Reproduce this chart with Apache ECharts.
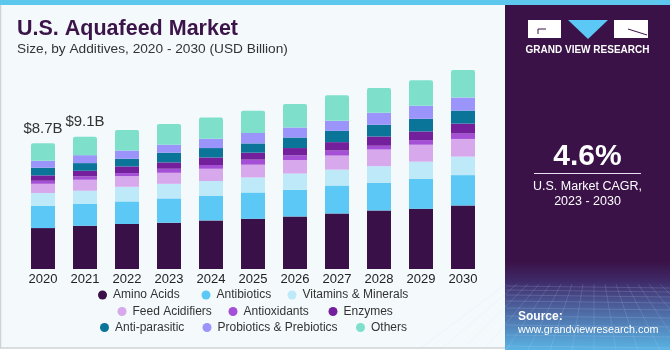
<!DOCTYPE html>
<html>
<head>
<meta charset="UTF-8">
<title>U.S. Aquafeed Market</title>
<script type="text/javascript" src="https://cdn.jsdelivr.net/npm/echarts@6/dist/echarts.min.js"></script>
<style>
  html, body { margin: 0; padding: 0; background: #ffffff; }
  #main { width: 670px; height: 350px; }
</style>
</head>
<body>
<div id="main"></div>
<script type="text/javascript">
    // data (USD billion)
    var years = ['2020', '2021', '2022', '2023', '2024', '2025', '2026', '2027', '2028', '2029', '2030'];
    var aminoAcids    = [2.83, 2.99, 3.11, 3.20, 3.36, 3.47, 3.63, 3.84, 4.05, 4.16, 4.39];
    var antibiotics   = [1.54, 1.52, 1.56, 1.68, 1.71, 1.82, 1.84, 1.93, 1.91, 2.07, 2.10];
    var vitamins      = [0.88, 0.90, 1.01, 1.01, 1.01, 1.04, 1.13, 1.10, 1.15, 1.19, 1.28];
    var feedAcidifier = [0.64, 0.76, 0.74, 0.76, 0.85, 0.88, 0.93, 0.97, 1.15, 1.17, 1.22];
    var antioxidants  = [0.21, 0.23, 0.21, 0.28, 0.26, 0.35, 0.32, 0.35, 0.26, 0.32, 0.37];
    var enzymes       = [0.37, 0.39, 0.46, 0.44, 0.52, 0.48, 0.51, 0.58, 0.64, 0.60, 0.69];
    var antiParasitic = [0.53, 0.53, 0.53, 0.67, 0.65, 0.64, 0.73, 0.78, 0.81, 0.87, 0.90];
    var probiotics    = [0.48, 0.55, 0.57, 0.55, 0.64, 0.72, 0.69, 0.69, 0.83, 0.90, 0.90];
    var others        = [1.22, 1.28, 1.41, 1.43, 1.47, 1.54, 1.62, 1.77, 1.71, 1.77, 1.91];
    var totalLabels   = ['$8.7B', '$9.1B'];   // shown over the first two bars

    var seriesNames = ['Amino Acids', 'Antibiotics', 'Vitamins & Minerals', 'Feed Acidifiers',
        'Antioxidants', 'Enzymes', 'Anti-parasitic', 'Probiotics & Prebiotics', 'Others'];
    var seriesData = [aminoAcids, antibiotics, vitamins, feedAcidifier, antioxidants,
        enzymes, antiParasitic, probiotics, others];
    var colors = ['#3a1048', '#5bc8f5', '#bde9f9', '#d7a8ec', '#a44fd6',
        '#74209c', '#0a7499', '#9b94fb', '#7ee0cb'];

    // legend dot positions (left edge x, centre y)
    var legendPos = [[98, 296.5], [201.5, 296.5], [287.5, 296.5],
        [117.5, 313], [228.5, 313], [328.5, 313],
        [100, 329], [202.5, 329], [356, 329]];

    var font = 'Arial, "Liberation Sans", sans-serif';
    var myChart = echarts.init(document.getElementById('main'), null, { renderer: 'canvas' });

    var series = seriesData.map(function (arr, i) {
        var last = i === seriesData.length - 1;
        return {
            name: seriesNames[i],
            type: 'bar',
            stack: 'total',
            barWidth: 24,
            itemStyle: { color: colors[i], borderRadius: last ? [2, 2, 0, 0] : 0 },
            data: arr.map(function (v, j) {
                if (last && j < totalLabels.length) {
                    return {
                        value: v,
                        label: {
                            show: true, position: 'top', distance: 7,
                            formatter: totalLabels[j],
                            fontSize: 15, color: '#333', fontFamily: font
                        }
                    };
                }
                return v;
            })
        };
    });

    var legends = seriesNames.map(function (name, i) {
        return {
            left: legendPos[i][0],
            top: legendPos[i][1] - 7.5,
            padding: 0,
            icon: 'circle',
            itemWidth: 9,
            itemHeight: 9,
            selectedMode: false,
            data: [name],
            textStyle: { fontSize: 12, color: '#333', fontFamily: font, padding: [0, 0, 0, 1] }
        };
    });

    // perspective grid decoration at the bottom of the side panel
    var gridLines = [];
    var hy = [286, 290, 295, 301, 308, 316, 325, 335, 346];
    hy.forEach(function (y) {
        gridLines.push({ type: 'line', silent: true,
            shape: { x1: 506, y1: y, x2: 670, y2: y + 2 },
            style: { stroke: 'rgba(200,220,255,0.22)', lineWidth: 0.8 } });
    });
    for (var k = 0; k < 16; k++) {
        var xTop = 506 + k * 11;
        var xBot = 506 + (k - 8) * 22 + 88;
        gridLines.push({ type: 'line', silent: true,
            shape: { x1: xTop, y1: 284, x2: xBot, y2: 350 },
            style: { stroke: 'rgba(200,220,255,0.2)', lineWidth: 0.8 } });
    }

    var graphics = [
        // chart area background and frame
        { type: 'rect', silent: true, z: -10,
          shape: { x: 0.5, y: 0, width: 506, height: 348 },
          style: { fill: '#f4f9fc', stroke: '#cfd3d6', lineWidth: 1.5 } },
        // side panel
        { type: 'rect', silent: true, z: -9,
          shape: { x: 505, y: 0, width: 165, height: 350 },
          style: { fill: '#3a1248' } },
        { type: 'rect', silent: true, z: -8,
          shape: { x: 505, y: 262, width: 165, height: 88 },
          style: { fill: new echarts.graphic.LinearGradient(0, 0, 0, 1, [
              { offset: 0, color: '#3a1248' },
              { offset: 0.22, color: '#3f2a68' },
              { offset: 0.45, color: '#4a5592' },
              { offset: 1, color: '#5ab4e4' }]) } },
        // top stripe
        { type: 'rect', silent: true, z: 10,
          shape: { x: 0, y: 0, width: 670, height: 5 },
          style: { fill: '#5ec7ee' } },
        // title
        { type: 'text', silent: true,
          style: { x: 17, y: 29, text: 'U.S. Aquafeed Market', fill: '#3b1549',
                   font: 'bold 21.5px ' + font, textVerticalAlign: 'middle' } },
        { type: 'text', silent: true,
          style: { x: 17, y: 49.5, text: 'Size, by Additives, 2020 - 2030 (USD Billion)', fill: '#333',
                   font: '13.7px ' + font, textVerticalAlign: 'middle' } },
        // logo
        { type: 'rect', silent: true, shape: { x: 528, y: 20, width: 33, height: 18 }, style: { fill: '#fff' } },
        { type: 'polyline', silent: true, shape: { points: [[546, 29], [538, 29], [538, 34]] },
          style: { stroke: '#3a1248', lineWidth: 1 } },
        { type: 'polygon', silent: true, shape: { points: [[568, 20], [608, 20], [588, 39]] },
          style: { fill: '#5bc8f5' } },
        { type: 'rect', silent: true, shape: { x: 614, y: 20, width: 34, height: 18 }, style: { fill: '#fff' } },
        { type: 'line', silent: true, shape: { x1: 628, y1: 29, x2: 647, y2: 35 },
          style: { stroke: '#3a1248', lineWidth: 1 } },
        { type: 'text', silent: true,
          style: { x: 587.5, y: 50.5, text: 'GRAND VIEW RESEARCH', fill: '#fff',
                   font: 'bold 10px ' + font, textAlign: 'center', textVerticalAlign: 'middle' } },
        // CAGR block
        { type: 'text', silent: true,
          style: { x: 587.5, y: 157, text: '4.6%', fill: '#fff',
                   font: 'bold 30px ' + font, textAlign: 'center', textVerticalAlign: 'middle' } },
        { type: 'line', silent: true, shape: { x1: 534, y1: 173.5, x2: 641, y2: 173.5 },
          style: { stroke: '#e8e0f0', lineWidth: 1 } },
        { type: 'text', silent: true,
          style: { x: 587.5, y: 186.5, text: 'U.S. Market CAGR,', fill: '#fff',
                   font: '12.5px ' + font, textAlign: 'center', textVerticalAlign: 'middle' } },
        { type: 'text', silent: true,
          style: { x: 587.5, y: 202, text: '2023 - 2030', fill: '#fff',
                   font: '12.5px ' + font, textAlign: 'center', textVerticalAlign: 'middle' } },
        // source
        { type: 'text', silent: true, z: 5,
          style: { x: 518, y: 317, text: 'Source:', fill: '#fff',
                   font: 'bold 12px ' + font, textVerticalAlign: 'middle' } },
        { type: 'text', silent: true, z: 5,
          style: { x: 518, y: 330.5, text: 'www.grandviewresearch.com', fill: '#fff',
                   font: '10.8px ' + font, textVerticalAlign: 'middle' } }
    ].concat(gridLines);

    var option = {
        animation: false,
        backgroundColor: '#ffffff',
        color: colors,
        legend: legends,
        grid: { left: 22, right: 186, top: 52, bottom: 81, containLabel: false },
        xAxis: {
            type: 'category',
            data: years,
            axisLine: { show: false },
            axisTick: { show: false },
            axisLabel: { fontSize: 13, color: '#222', margin: 4, fontFamily: font }
        },
        yAxis: {
            type: 'value',
            min: 0,
            max: 15,
            show: false,
            splitLine: { show: false }
        },
        graphic: graphics,
        series: series
    };

    myChart.setOption(option);
</script>
</body>
</html>
